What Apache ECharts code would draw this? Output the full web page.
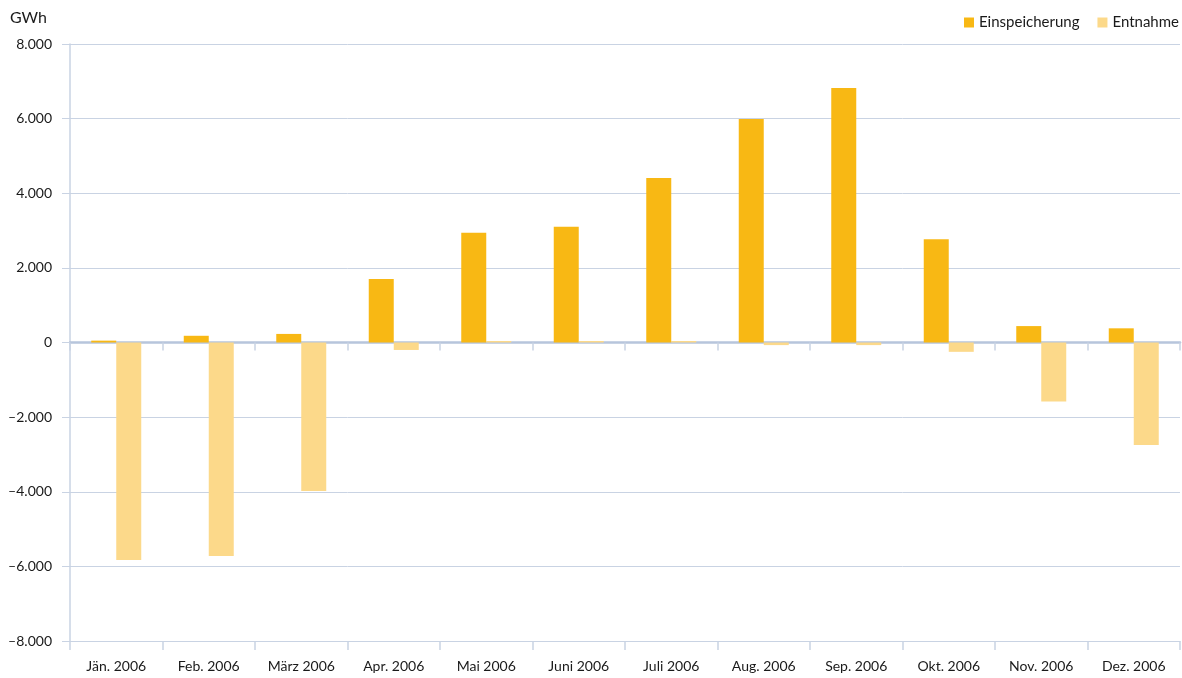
<!DOCTYPE html>
<html>
<head>
<meta charset="utf-8">
<script src="https://cdn.jsdelivr.net/npm/echarts@6/dist/echarts.min.js"></script>
<style>
  html, body { margin: 0; padding: 0; background: #fff; }
  #chart { width: 1182px; height: 678px; }
</style>
</head>
<body>
<div id="chart"></div>
<script>
// Monthly gas storage injection / withdrawal, 2006 (GWh)
const months = ['Jän. 2006', 'Feb. 2006', 'März 2006', 'Apr. 2006', 'Mai 2006', 'Juni 2006',
                'Juli 2006', 'Aug. 2006', 'Sep. 2006', 'Okt. 2006', 'Nov. 2006', 'Dez. 2006'];
const einspeicherung = [50, 180, 230, 1700, 2940, 3100, 4410, 5990, 6820, 2770, 440, 380];
const entnahme = [-5830, -5720, -3980, -200, 40, 40, 40, -70, -70, -250, -1580, -2750];
const yTicks = { min: -8000, max: 8000, step: 2000 };

const FONT = 'Lato, "Open Sans", sans-serif';
const TEXT = '#1a1a1a';
const GRID = '#c9d3e3';

function fmt(v) {
  const s = Math.abs(v).toString().replace(/\B(?=(\d{3})+(?!\d))/g, '.');
  return v < 0 ? '\u2013' + s : s;
}

const chart = echarts.init(document.getElementById('chart'));
chart.setOption({
  animation: false,
  textStyle: { fontFamily: FONT },
  grid: { left: 70, right: 2, top: 44, bottom: 37, containLabel: false },
  legend: {
    right: -2, top: 10,
    itemWidth: 10, itemHeight: 10, itemGap: 18,
    icon: 'rect',
    textStyle: { fontFamily: FONT, fontSize: 15, color: TEXT, padding: [0, 0, 0, 0] },
    data: ['Einspeicherung', 'Entnahme']
  },
  graphic: [{
    type: 'text', left: 10, top: 10,
    style: { text: 'GWh', fontFamily: FONT, fontSize: 16, fill: TEXT }
  }],
  xAxis: [{
    type: 'category', data: months,
    axisLine: { onZero: true, lineStyle: { color: '#b7c5dc', width: 2.5 } },
    axisTick: { show: true, length: 8, lineStyle: { color: GRID, width: 1.5 } },
    axisLabel: { show: false },
    splitLine: { show: false }
  }, {
    type: 'category', data: months, position: 'bottom',
    axisLine: { onZero: false, show: true, lineStyle: { color: GRID, width: 1 } },
    axisTick: { show: true, length: 9, lineStyle: { color: GRID, width: 1.5 } },
    axisLabel: { show: true, color: TEXT, fontSize: 14, fontFamily: FONT, margin: 18 }
  }],
  yAxis: {
    type: 'value', min: yTicks.min, max: yTicks.max, interval: yTicks.step,
    axisLine: { show: true, lineStyle: { color: GRID, width: 1.5 } },
    axisTick: { show: true, length: 8, lineStyle: { color: GRID } },
    axisLabel: { color: TEXT, fontSize: 14, fontFamily: FONT, margin: 18, formatter: fmt },
    splitLine: { show: true, lineStyle: { color: GRID, width: 1 } }
  },
  series: [{
    name: 'Einspeicherung', type: 'bar', data: einspeicherung,
    barWidth: 25, barGap: '0%',
    itemStyle: { color: '#f8b814' }
  }, {
    name: 'Entnahme', type: 'bar', data: entnahme,
    barWidth: 25, barGap: '0%',
    itemStyle: { color: '#fcd98a' }
  }]
});
</script>
</body>
</html>
